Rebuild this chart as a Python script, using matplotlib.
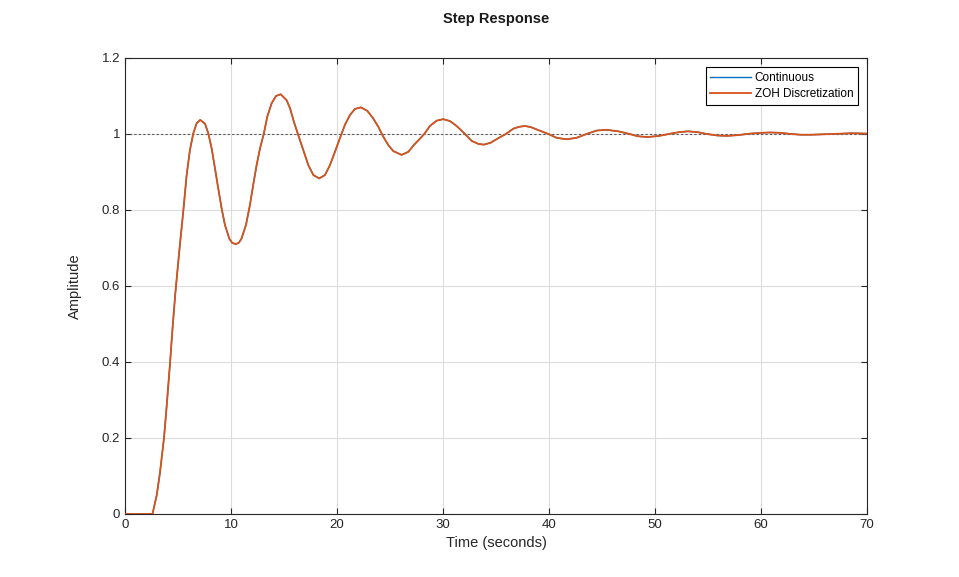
import matplotlib.pyplot as plt

plt.rcParams['font.family'] = ['Liberation Sans', 'DejaVu Sans']

time_s = [0, 2.6, 3.0, 3.3, 3.68, 3.93, 4.25, 4.5, 4.75, 5.0, 5.19, 5.5, 5.82, 6.13,
          6.45, 6.76, 7.1, 7.55, 7.86, 8.18, 8.49, 8.8, 9.12, 9.43, 9.84, 10.1, 10.45,
          10.75, 11.0, 11.42, 11.79, 12.1, 12.42, 12.74, 13.11, 13.43, 13.84, 14.25,
          14.69, 15.25, 15.57, 15.94, 16.35, 16.82, 17.3, 17.77, 18.33, 18.87, 19.34,
          19.81, 20.28, 20.75, 21.23, 21.7, 22.26, 22.86, 23.42, 23.9, 24.37, 24.84,
          25.31, 26.1, 26.73, 27.26, 27.77, 28.24, 28.77, 29.4, 30.03, 30.66, 31.29,
          32.08, 32.7, 33.33, 33.87, 34.5, 35.22, 35.94, 36.64, 37.2, 37.74, 38.3,
          38.84, 39.94, 40.72, 41.67, 42.61, 43.55, 44.5, 45.44, 46.54, 47.6, 48.4,
          49.3, 50.4, 51.5, 52.3, 53.1, 54.0, 54.9, 55.9, 56.8, 57.8, 59.0, 60.0,
          60.9, 61.9, 62.8, 63.8, 64.7, 65.7, 66.7, 67.7, 68.6, 70.0]
continuous = [0, 0, 0.05, 0.108, 0.199, 0.282, 0.396, 0.493, 0.58, 0.655, 0.71, 0.796,
              0.892, 0.958, 1.002, 1.028, 1.037, 1.027, 1.002, 0.962, 0.91, 0.857, 0.804,
              0.761, 0.725, 0.714, 0.710, 0.714, 0.725, 0.761, 0.813, 0.866, 0.918,
              0.962, 1.002, 1.046, 1.081, 1.1, 1.1045, 1.089, 1.068, 1.032, 0.997,
              0.958, 0.918, 0.892, 0.883, 0.892, 0.918, 0.953, 0.989, 1.024, 1.05,
              1.066, 1.070, 1.061, 1.041, 1.019, 0.993, 0.971, 0.955, 0.945, 0.953,
              0.971, 0.986, 1.0, 1.021, 1.035, 1.039, 1.034, 1.021, 1.0, 0.982, 0.974,
              0.972, 0.977, 0.989, 1.0, 1.014, 1.019, 1.021, 1.018, 1.012, 1.0, 0.990,
              0.986, 0.990, 1.0, 1.009, 1.011, 1.007, 1.0, 0.994, 0.992, 0.995, 1.001,
              1.005, 1.007, 1.005, 1.0, 0.996, 0.995, 0.997, 1.001, 1.003, 1.004,
              1.003, 1.0, 0.998, 0.998, 0.999, 1.0, 1.001, 1.002, 1.001]
# ZOH curve sits right on top of the continuous one
zoh = list(continuous)

x_ticks = [0, 10, 20, 30, 40, 50, 60, 70]
y_ticks = [0, 0.2, 0.4, 0.6, 0.8, 1, 1.2]
y_labels = ['0', '0.2', '0.4', '0.6', '0.8', '1', '1.2']

fig = plt.figure(figsize=(9.59, 5.77), dpi=100)
ax = fig.add_axes([0.1303, 0.1092, 0.7737, 0.7903])

ax.axhline(1, color='0.35', lw=0.8, ls=(0, (2, 2)), zorder=1)
ax.plot(time_s, continuous, color='#0072BD', lw=1.0, label='Continuous', zorder=3)
ax.plot(time_s, zoh, color='#D95319', lw=1.3, label='ZOH Discretization', zorder=4)

ax.set_xlim(0, 70)
ax.set_ylim(0, 1.2)
ax.set_xticks(x_ticks)
ax.set_yticks(y_ticks)
ax.set_yticklabels(y_labels)
ax.grid(True, color='#dcdcdc', lw=0.8)
ax.set_axisbelow(True)
ax.tick_params(direction='in', top=True, right=True, length=4, width=0.8,
               labelsize=9.5, colors='#262626')
for s in ax.spines.values():
    s.set_color('#262626')
    s.set_linewidth(0.8)

ax.set_title('Step Response', fontsize=10.5, fontweight='bold', pad=25, color='#1a1a1a')
ax.set_xlabel('Time (seconds)', fontsize=10.5, color='#262626', labelpad=4)
ax.set_ylabel('Amplitude', fontsize=10.5, color='#262626', labelpad=14)

leg = ax.legend(loc='upper right', bbox_to_anchor=(0.988, 0.98), borderaxespad=0,
                fontsize=8.5, fancybox=False, framealpha=1, edgecolor='black',
                handlelength=3.4, handletextpad=0.35, borderpad=0.4, labelspacing=0.35)
leg.get_frame().set_linewidth(0.8)

plt.savefig('out.png', dpi=100)
